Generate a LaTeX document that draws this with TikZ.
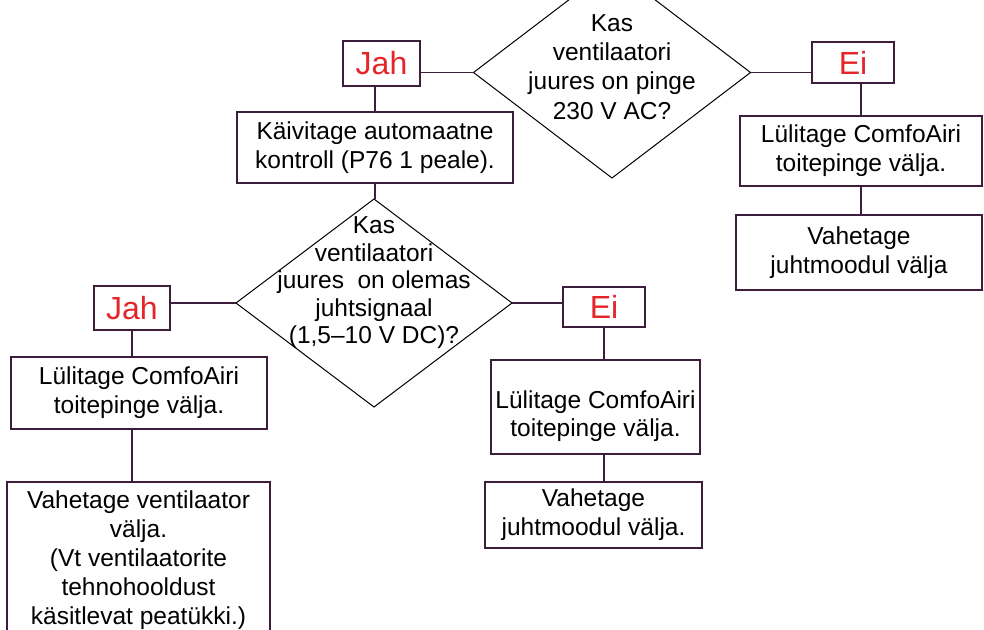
\documentclass[tikz,border=0pt]{standalone}
\usepackage{fontspec}
\setmainfont{Liberation Sans}
\usetikzlibrary{shapes.geometric}
\definecolor{frame}{RGB}{60,30,60}
\definecolor{lblred}{RGB}{228,38,42}
\begin{document}
\begin{tikzpicture}[x=1pt,y=-1pt,
  box/.style={draw=frame, line width=1.4pt, rectangle, inner sep=0pt, align=center, font=\fontsize{24.5}{29}\selectfont},
  ans/.style={draw=frame, line width=1.4pt, rectangle, inner sep=0pt, text=lblred, font=\fontsize{32}{36}\selectfont},
  dec/.style={draw=black, line width=1pt, diamond, inner sep=0pt, outer sep=0pt},
  dtext/.style={align=center, inner sep=0pt},
  link/.style={draw=frame, line width=1.4pt}]
\useasboundingbox (0,0) rectangle (984,629);
\clip (0,0) rectangle (984,629);
\fill[white] (0,0) rectangle (984,629);
% top decision
\node[dec, minimum width=277pt, minimum height=211pt] (d1) at (612,72.5) {};
\node[dtext, font=\fontsize{24.5}{29.3}\selectfont] (d1t) at (612,67) {Kas\\ventilaatori\\juures on pinge\\230 V AC?};
\node[ans, minimum width=77pt, minimum height=45pt] (jah1) at (381.5,63.5) {Jah};
\node[box, minimum width=276pt, minimum height=71pt] (start) at (375,147.5) {Käivitage automaatne\\kontroll (P76 1 peale).};
\node[ans, minimum width=82pt, minimum height=41pt] (ei1) at (853,62.5) {Ei};
\node[box, minimum width=242pt, minimum height=70pt] (b3) at (861,151) {Lülitage ComfoAiri\\toitepinge välja.};
\node[box, minimum width=246pt, minimum height=75pt] (b4) at (859,252.5) {Vahetage\\juhtmoodul välja};
% second decision
\node[dec, minimum width=276pt, minimum height=208pt] (d2) at (374,303) {};
\node[dtext, font=\fontsize{24.5}{27.5}\selectfont] (d2t) at (374,283) {Kas\\ventilaatori\\juures~ on olemas\\juhtsignaal\\(1,5–10 V DC)?};
\node[ans, minimum width=76pt, minimum height=44pt] (jah2) at (132,308) {Jah};
\node[box, minimum width=256pt, minimum height=72pt] (b5) at (139,393) {Lülitage ComfoAiri\\toitepinge välja.};
\node[box, minimum width=263pt, minimum height=150pt,
  label={[font=\fontsize{24.5}{29}\selectfont, align=center, inner sep=0pt, yshift=-3pt]center:{Vahetage ventilaator\\välja.\\(Vt ventilaatorite\\tehnohooldust\\käsitlevat peatükki.)}}] (b6) at (138.5,557) {};
\node[ans, minimum width=82pt, minimum height=40pt] (ei2) at (604,307) {Ei};
\node[box, minimum width=209pt, minimum height=94pt,
  label={[font=\fontsize{24.5}{28}\selectfont, align=center, inner sep=0pt, yshift=-9pt]center:{Lülitage ComfoAiri\\toitepinge välja.}}] (b7) at (595.5,407) {};
\node[box, minimum width=217pt, minimum height=66pt] (b8) at (593.5,515) {Vahetage\\juhtmoodul välja.};
% connectors
\draw[link] (d1.west) -- (d1.west -| jah1.east);
\draw[link] (start.north |- jah1.south) -- (start.north);
\draw[link] (start.south) -- (start.south |- d2.north);
\draw[link] (d1.east) -- (d1.east -| ei1.west);
\draw[link] (b3.north |- ei1.south) -- (b3.north);
\draw[link] (b3.south) -- (b3.south |- b4.north);
\draw[link] (d2.west) -- (d2.west -| jah2.east);
\draw[link] (jah2.south) -- (jah2.south |- b5.north);
\draw[link] (jah2.south |- b5.south) -- (jah2.south |- b6.north);
\draw[link] (d2.east) -- (d2.east -| ei2.west);
\draw[link] (ei2.south) -- (ei2.south |- b7.north);
\draw[link] (ei2.south |- b7.south) -- (ei2.south |- b8.north);
\end{tikzpicture}
\end{document}
